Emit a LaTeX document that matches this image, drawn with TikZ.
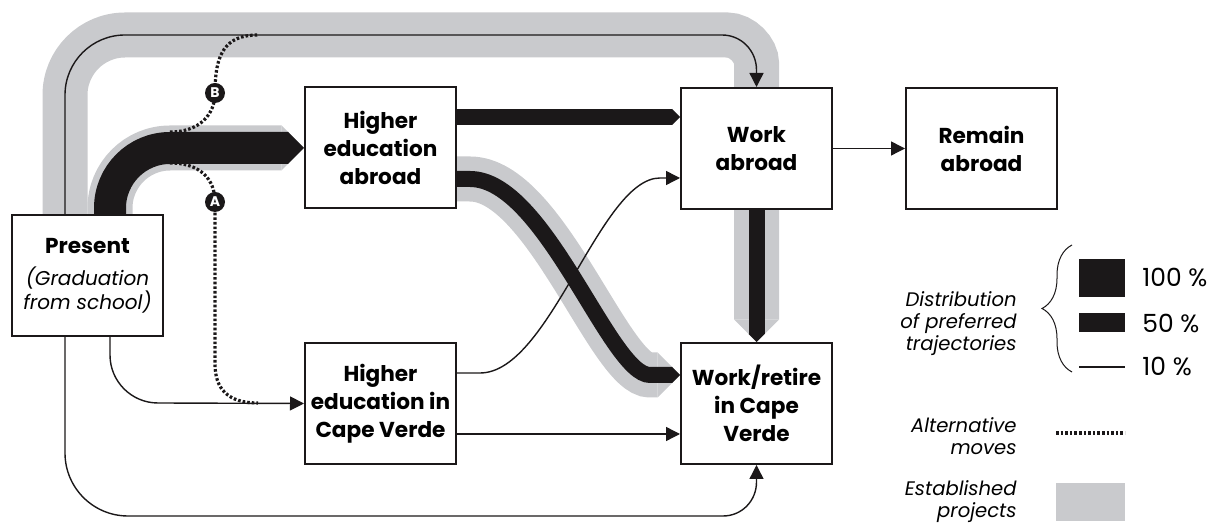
\documentclass[tikz,border=0pt]{standalone}
\usepackage{fontspec}
\setmainfont{Poppins}
\usetikzlibrary{arrows.meta,calc,backgrounds,decorations.pathreplacing}
\definecolor{projgray}{HTML}{C9CACD}
\definecolor{trajblack}{HTML}{1B1819}
\newcommand{\itline}[1]{\textit{\mdseries #1}}

\begin{document}
\begin{tikzpicture}[x=0.5pt,y=0.5pt,
  chev/.tip={Triangle[length=0pt 0.5,width=0pt 1,line width=0pt]},
  box/.style={draw=trajblack,line width=1pt,fill=white,minimum width=75.5pt,minimum height=60.5pt,
    inner sep=0pt,align=center,font=\bfseries\fontsize{10.8}{14}\selectfont},
  proj/.style={draw=projgray,line width=22.5pt,-{chev}},
  full/.style={draw=trajblack,line width=16pt,-{chev}},
  half/.style={draw=trajblack,line width=8pt,-{chev}},
  ten/.style={draw=trajblack,line width=0.7pt,-{Triangle[length=7pt,width=7pt]}},
  alt/.style={draw=trajblack,line width=1.6pt,dash pattern=on 1.3pt off 1pt},
  tag/.style={circle,fill=trajblack,text=white,inner sep=0pt,minimum size=10pt,font=\bfseries\fontsize{7}{7}\selectfont},
  lbl/.style={anchor=east,align=right,inner sep=0pt,font=\itshape\fontsize{9.8}{11}\selectfont},
  pct/.style={anchor=west,inner sep=0pt,font=\fontsize{12.5}{14}\selectfont}]
\useasboundingbox (0,0) rectangle (1226,524);

\node[box,font=\fontsize{10}{11}\selectfont] (present) at (87.5,248.5)
  {{\bfseries\fontsize{10.8}{14}\selectfont Present}\\[5pt]\itline{(Graduation}\\\itline{from school)}};
\node[box] (heab) at (380.5,376) {Higher\\education\\abroad};
\node[box] (hecv) at (380.5,120.5) {Higher\\education in\\Cape Verde};
\node[box] (wab) at (756.5,375.5) {Work\\abroad};
\node[box] (rem) at (981.5,375.5) {Remain\\abroad};
\node[box] (wcv) at (756.5,120.5) {Work/retire\\in Cape\\Verde};
\node[tag] (b) at (215,431) {B};
\node[tag] (a) at (215,322) {A};

\begin{pgfonlayer}{background}
\draw[proj] ($(present.north)+(-22.5,0)$) -- (65,429) .. controls (65,462.1) and (91.9,489) .. (125,489)
  -- (727,489) .. controls (742.5,489) and (756.5,473.5) .. (756.5,461) -- (wcv.north);
\draw[proj] ($(present.north)+(22.5,0)$) -- (110,316) .. controls (110,349.1) and (136.9,376) .. (170,376) -- (heab.west);
\draw[proj] ($(heab.east)+(0,-31)$) -- (470,345) .. controls (545,345) and (610,149) .. (650,149) -- ($(wcv.west)+(0,28.5)$);

\draw[full] ($(present.north)+(22.5,0)$) -- (110,316) .. controls (110,349.1) and (136.9,376) .. (170,376) -- (heab.west);
\draw[half] ($(heab.east)+(0,-31)$) -- (470,345) .. controls (545,345) and (610,149) .. (650,149) -- ($(wcv.west)+(0,28.5)$);
\draw[half] ($(heab.east)+(0,31)$) -- ($(wab.west)+(0,31.5)$);
\draw[half] (wab.south) -- (wcv.north);

\draw[ten] ($(present.north)+(-22.5,0)$) -- (65,429) .. controls (65,462.1) and (91.9,489) .. (125,489)
  -- (722,489) .. controls (741.3,489) and (756.5,473.3) .. (756.5,454) -- (wab.north);
\draw[ten] ($(present.south)+(22.5,0)$) -- (110,169) .. controls (110,142.5) and (131.5,121) .. (158,121) -- (hecv.west);
\draw[ten] ($(present.south)+(-22.5,0)$) -- (65,71) .. controls (65,36.2) and (93.2,8) .. (128,8)
  -- (723,8) .. controls (741.8,8) and (756.5,23.2) .. (756.5,42) -- (wcv.south);
\draw[ten] ($(hecv.east)+(0,30.5)$) -- (480,151) .. controls (550,151) and (600,346) .. (660,346) -- ($(wab.west)+(0,-29.5)$);
\draw[ten] ($(hecv.east)+(0,-30.5)$) -- ($(wcv.west)+(0,-30.5)$);
\draw[ten] (wab) -- (rem);

\draw[alt] (170,392) .. controls (200,392) and (215,410) .. (b.center) .. controls (215,470) and (225,489) .. (258,489);
\draw[alt] (170,361) .. controls (200,361) and (215,345) .. (a.center) -- (215,160) .. controls (215,135) and (228,121) .. (258,121);
\end{pgfonlayer}

\fill[trajblack] (1079,227) rectangle (1125,265);
\fill[trajblack] (1079,192) rectangle (1125,211);
\draw[trajblack,line width=0.7pt] (1079,157) -- (1125,157);
\draw[alt] (1056,91) -- (1125,91);
\fill[projgray] (1056,3) rectangle (1125,41);
\draw[trajblack,line width=0.5pt,decorate,decoration={brace,amplitude=15pt}] (1072,152) -- (1072,279);

\node[lbl] (dist) at (1017,200) {Distribution\\of preferred\\trajectories};
\node[lbl] (altm) at (1017,88) {Alternative\\moves};
\node[lbl] (estp) at (1017,22) {Established\\projects};
\node[pct] (p100) at (1142,246.5) {100 \%};
\node[pct] (p50) at (1142,201) {50 \%};
\node[pct] (p10) at (1142,157.5) {10 \%};
\end{tikzpicture}
\end{document}
